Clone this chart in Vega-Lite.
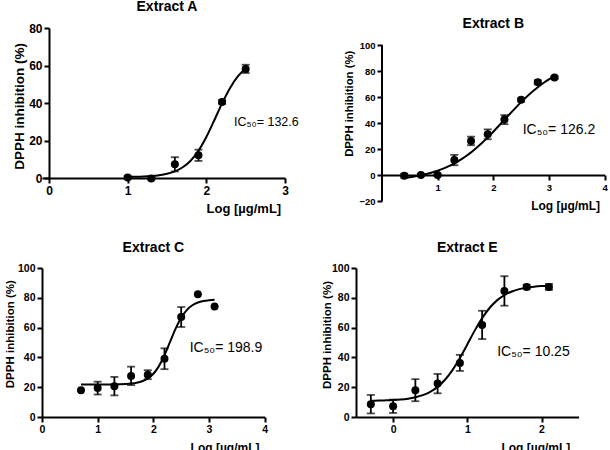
{
  "$schema": "https://vega.github.io/schema/vega-lite/v6.json",
  "padding": {"left": 3, "top": 0, "right": 0, "bottom": 0},
  "background": "white",
  "datasets": {
    "points": [
      {"panel": "A", "logc": 1.0, "inhibition": 0.3, "sem": 0.8},
      {"panel": "A", "logc": 1.3, "inhibition": -0.3, "sem": 0.6},
      {"panel": "A", "logc": 1.6, "inhibition": 7.3, "sem": 3.8},
      {"panel": "A", "logc": 1.9, "inhibition": 12.1, "sem": 3.0},
      {"panel": "A", "logc": 2.2, "inhibition": 40.5, "sem": 1.0},
      {"panel": "A", "logc": 2.5, "inhibition": 58.2, "sem": 2.2},
      {"panel": "B", "logc": 0.4, "inhibition": -0.5, "sem": 1.5},
      {"panel": "B", "logc": 0.7, "inhibition": 0.0, "sem": 0.8},
      {"panel": "B", "logc": 1.0, "inhibition": 0.0, "sem": 0.5},
      {"panel": "B", "logc": 1.3, "inhibition": 11.5, "sem": 4.0},
      {"panel": "B", "logc": 1.6, "inhibition": 26.2, "sem": 3.3},
      {"panel": "B", "logc": 1.9, "inhibition": 31.3, "sem": 3.8},
      {"panel": "B", "logc": 2.2, "inhibition": 42.6, "sem": 3.5},
      {"panel": "B", "logc": 2.5, "inhibition": 57.8, "sem": 1.2},
      {"panel": "B", "logc": 2.8, "inhibition": 71.3, "sem": 1.5},
      {"panel": "B", "logc": 3.1, "inhibition": 75.0, "sem": 1.0},
      {"panel": "C", "logc": 0.7, "inhibition": 17.9, "sem": 0},
      {"panel": "C", "logc": 1.0, "inhibition": 19.4, "sem": 4.3},
      {"panel": "C", "logc": 1.3, "inhibition": 20.7, "sem": 6.2},
      {"panel": "C", "logc": 1.6, "inhibition": 27.6, "sem": 6.2},
      {"panel": "C", "logc": 1.9, "inhibition": 28.4, "sem": 3.0},
      {"panel": "C", "logc": 2.2, "inhibition": 39.1, "sem": 7.0},
      {"panel": "C", "logc": 2.5, "inhibition": 67.1, "sem": 6.7},
      {"panel": "C", "logc": 2.8, "inhibition": 82.3, "sem": 0},
      {"panel": "C", "logc": 3.1, "inhibition": 74.2, "sem": 0},
      {"panel": "E", "logc": -0.3, "inhibition": 8.6, "sem": 6.2},
      {"panel": "E", "logc": 0.0, "inhibition": 7.2, "sem": 4.5},
      {"panel": "E", "logc": 0.3, "inhibition": 18.0, "sem": 7.4},
      {"panel": "E", "logc": 0.6, "inhibition": 22.4, "sem": 6.5},
      {"panel": "E", "logc": 0.9, "inhibition": 36.3, "sem": 5.4},
      {"panel": "E", "logc": 1.2, "inhibition": 61.8, "sem": 9.5},
      {"panel": "E", "logc": 1.5, "inhibition": 84.6, "sem": 9.9},
      {"panel": "E", "logc": 1.8, "inhibition": 87.3, "sem": 1.5},
      {"panel": "E", "logc": 2.1, "inhibition": 87.3, "sem": 2.0}
    ],
    "fit": [
      {"panel": "A", "logc": 1.0, "inhibition": 0.60},
      {"panel": "A", "logc": 1.1, "inhibition": 0.68},
      {"panel": "A", "logc": 1.2, "inhibition": 0.82},
      {"panel": "A", "logc": 1.3, "inhibition": 1.06},
      {"panel": "A", "logc": 1.4, "inhibition": 1.49},
      {"panel": "A", "logc": 1.5, "inhibition": 2.24},
      {"panel": "A", "logc": 1.6, "inhibition": 3.54},
      {"panel": "A", "logc": 1.7, "inhibition": 5.71},
      {"panel": "A", "logc": 1.8, "inhibition": 9.22},
      {"panel": "A", "logc": 1.9, "inhibition": 14.52},
      {"panel": "A", "logc": 2.0, "inhibition": 21.86},
      {"panel": "A", "logc": 2.1, "inhibition": 30.67},
      {"panel": "A", "logc": 2.2, "inhibition": 39.83},
      {"panel": "A", "logc": 2.3, "inhibition": 47.93},
      {"panel": "A", "logc": 2.4, "inhibition": 54.16},
      {"panel": "A", "logc": 2.5, "inhibition": 58.41},
      {"panel": "B", "logc": 0.4, "inhibition": -2.28},
      {"panel": "B", "logc": 0.5, "inhibition": -1.71},
      {"panel": "B", "logc": 0.6, "inhibition": -1.03},
      {"panel": "B", "logc": 0.7, "inhibition": -0.20},
      {"panel": "B", "logc": 0.8, "inhibition": 0.76},
      {"panel": "B", "logc": 0.9, "inhibition": 1.93},
      {"panel": "B", "logc": 1.0, "inhibition": 3.28},
      {"panel": "B", "logc": 1.1, "inhibition": 4.89},
      {"panel": "B", "logc": 1.2, "inhibition": 6.76},
      {"panel": "B", "logc": 1.3, "inhibition": 8.93},
      {"panel": "B", "logc": 1.4, "inhibition": 11.41},
      {"panel": "B", "logc": 1.5, "inhibition": 14.23},
      {"panel": "B", "logc": 1.6, "inhibition": 17.41},
      {"panel": "B", "logc": 1.7, "inhibition": 20.96},
      {"panel": "B", "logc": 1.8, "inhibition": 24.78},
      {"panel": "B", "logc": 1.9, "inhibition": 28.93},
      {"panel": "B", "logc": 2.0, "inhibition": 33.32},
      {"panel": "B", "logc": 2.1, "inhibition": 37.87},
      {"panel": "B", "logc": 2.2, "inhibition": 42.50},
      {"panel": "B", "logc": 2.3, "inhibition": 47.14},
      {"panel": "B", "logc": 2.4, "inhibition": 51.68},
      {"panel": "B", "logc": 2.5, "inhibition": 56.05},
      {"panel": "B", "logc": 2.6, "inhibition": 60.20},
      {"panel": "B", "logc": 2.7, "inhibition": 64.04},
      {"panel": "B", "logc": 2.8, "inhibition": 67.57},
      {"panel": "B", "logc": 2.9, "inhibition": 70.76},
      {"panel": "B", "logc": 3.0, "inhibition": 73.58},
      {"panel": "B", "logc": 3.1, "inhibition": 76.06},
      {"panel": "C", "logc": 0.7, "inhibition": 21.80},
      {"panel": "C", "logc": 0.8, "inhibition": 21.80},
      {"panel": "C", "logc": 0.9, "inhibition": 21.81},
      {"panel": "C", "logc": 1.0, "inhibition": 21.81},
      {"panel": "C", "logc": 1.1, "inhibition": 21.82},
      {"panel": "C", "logc": 1.2, "inhibition": 21.85},
      {"panel": "C", "logc": 1.3, "inhibition": 21.89},
      {"panel": "C", "logc": 1.4, "inhibition": 21.97},
      {"panel": "C", "logc": 1.5, "inhibition": 22.13},
      {"panel": "C", "logc": 1.6, "inhibition": 22.42},
      {"panel": "C", "logc": 1.7, "inhibition": 22.97},
      {"panel": "C", "logc": 1.8, "inhibition": 23.99},
      {"panel": "C", "logc": 1.9, "inhibition": 25.83},
      {"panel": "C", "logc": 2.0, "inhibition": 29.02},
      {"panel": "C", "logc": 2.1, "inhibition": 34.15},
      {"panel": "C", "logc": 2.2, "inhibition": 41.49},
      {"panel": "C", "logc": 2.3, "inhibition": 50.40},
      {"panel": "C", "logc": 2.4, "inhibition": 59.31},
      {"panel": "C", "logc": 2.5, "inhibition": 66.66},
      {"panel": "C", "logc": 2.6, "inhibition": 71.78},
      {"panel": "C", "logc": 2.7, "inhibition": 74.97},
      {"panel": "C", "logc": 2.8, "inhibition": 76.81},
      {"panel": "C", "logc": 2.9, "inhibition": 77.83},
      {"panel": "C", "logc": 3.0, "inhibition": 78.38},
      {"panel": "C", "logc": 3.1, "inhibition": 78.67},
      {"panel": "E", "logc": -0.3, "inhibition": 10.94},
      {"panel": "E", "logc": -0.2, "inhibition": 11.02},
      {"panel": "E", "logc": -0.1, "inhibition": 11.16},
      {"panel": "E", "logc": 0.0, "inhibition": 11.38},
      {"panel": "E", "logc": 0.1, "inhibition": 11.74},
      {"panel": "E", "logc": 0.2, "inhibition": 12.32},
      {"panel": "E", "logc": 0.3, "inhibition": 13.23},
      {"panel": "E", "logc": 0.4, "inhibition": 14.67},
      {"panel": "E", "logc": 0.5, "inhibition": 16.88},
      {"panel": "E", "logc": 0.6, "inhibition": 20.21},
      {"panel": "E", "logc": 0.7, "inhibition": 24.98},
      {"panel": "E", "logc": 0.8, "inhibition": 31.46},
      {"panel": "E", "logc": 0.9, "inhibition": 39.58},
      {"panel": "E", "logc": 1.0, "inhibition": 48.72},
      {"panel": "E", "logc": 1.1, "inhibition": 57.97},
      {"panel": "E", "logc": 1.2, "inhibition": 66.34},
      {"panel": "E", "logc": 1.3, "inhibition": 73.16},
      {"panel": "E", "logc": 1.4, "inhibition": 78.27},
      {"panel": "E", "logc": 1.5, "inhibition": 81.86},
      {"panel": "E", "logc": 1.6, "inhibition": 84.26},
      {"panel": "E", "logc": 1.7, "inhibition": 85.83},
      {"panel": "E", "logc": 1.8, "inhibition": 86.83},
      {"panel": "E", "logc": 1.9, "inhibition": 87.46},
      {"panel": "E", "logc": 2.0, "inhibition": 87.86},
      {"panel": "E", "logc": 2.1, "inhibition": 88.10}
    ]
  },
  "spacing": 25,
  "vconcat": [
    {
      "spacing": 44,
      "hconcat": [
        {
          "width": 243,
          "height": 150,
          "title": {"text": "Extract A", "offset": 8, "dx": 3.5, "anchor": "middle", "frame": "group"},
          "layer": [
            {
              "data": {"name": "fit"},
              "transform": [{"filter": "datum.panel === 'A'"}],
              "mark": {"type": "line", "color": "black", "strokeWidth": 2, "interpolate": "monotone"},
              "encoding": {
                "x": {"field": "logc", "type": "quantitative", "title": "Log [µg/mL]", "scale": {"domain": [-0.089, 3], "nice": false, "zero": false}, "axis": {"values": [0, 1, 2, 3], "format": "d", "labelFontSize": 12, "titleFontSize": 13, "titleAlign": "right", "titleBaseline": "alphabetic", "titleX": 238.7, "titleY": 34.8}},
                "y": {"field": "inhibition", "type": "quantitative", "title": "DPPH inhibition (%)", "scale": {"domain": [0, 80], "nice": false, "zero": false}, "axis": {"values": [0, 20, 40, 60, 80], "format": "d", "offset": -7, "labelFontSize": 12, "titleFontSize": 13.5, "titleAngle": 270, "titleAlign": "center", "titleBaseline": "alphabetic", "titleX": -26, "titleY": 78}}
              }
            },
            {
              "data": {"name": "points"},
              "transform": [{"filter": "datum.panel === 'A' && datum.sem > 0"}],
              "mark": {"type": "errorbar", "color": "black", "thickness": 1.8, "ticks": {"size": 8, "thickness": 1.8, "color": "black"}},
              "encoding": {
                "x": {"field": "logc", "type": "quantitative", "title": "Log [µg/mL]", "scale": {"domain": [-0.089, 3], "nice": false, "zero": false}, "axis": {"values": [0, 1, 2, 3], "format": "d", "labelFontSize": 12, "titleFontSize": 13, "titleAlign": "right", "titleBaseline": "alphabetic", "titleX": 238.7, "titleY": 34.8}},
                "y": {"field": "inhibition", "type": "quantitative", "title": "DPPH inhibition (%)", "scale": {"domain": [0, 80], "nice": false, "zero": false}, "axis": {"values": [0, 20, 40, 60, 80], "format": "d", "offset": -7, "labelFontSize": 12, "titleFontSize": 13.5, "titleAngle": 270, "titleAlign": "center", "titleBaseline": "alphabetic", "titleX": -26, "titleY": 78}},
                "yError": {"field": "sem"}
              }
            },
            {
              "data": {"name": "points"},
              "transform": [{"filter": "datum.panel === 'A'"}],
              "mark": {"type": "point", "filled": true, "size": 64, "color": "black", "opacity": 1},
              "encoding": {
                "x": {"field": "logc", "type": "quantitative", "title": "Log [µg/mL]", "scale": {"domain": [-0.089, 3], "nice": false, "zero": false}, "axis": {"values": [0, 1, 2, 3], "format": "d", "labelFontSize": 12, "titleFontSize": 13, "titleAlign": "right", "titleBaseline": "alphabetic", "titleX": 238.7, "titleY": 34.8}},
                "y": {"field": "inhibition", "type": "quantitative", "title": "DPPH inhibition (%)", "scale": {"domain": [0, 80], "nice": false, "zero": false}, "axis": {"values": [0, 20, 40, 60, 80], "format": "d", "offset": -7, "labelFontSize": 12, "titleFontSize": 13.5, "titleAngle": 270, "titleAlign": "center", "titleBaseline": "alphabetic", "titleX": -26, "titleY": 78}}
              }
            },
            {
              "data": {"values": [{}]},
              "mark": {"type": "text", "align": "left", "baseline": "middle", "fontSize": 12.5, "color": "black"},
              "encoding": {
                "x": {"datum": 2.351, "type": "quantitative", "title": "Log [µg/mL]", "scale": {"domain": [-0.089, 3], "nice": false, "zero": false}, "axis": {"values": [0, 1, 2, 3], "format": "d", "labelFontSize": 12, "titleFontSize": 13, "titleAlign": "right", "titleBaseline": "alphabetic", "titleX": 238.7, "titleY": 34.8}},
                "y": {"datum": 29.9, "type": "quantitative", "title": "DPPH inhibition (%)", "scale": {"domain": [0, 80], "nice": false, "zero": false}, "axis": {"values": [0, 20, 40, 60, 80], "format": "d", "offset": -7, "labelFontSize": 12, "titleFontSize": 13.5, "titleAngle": 270, "titleAlign": "center", "titleBaseline": "alphabetic", "titleX": -26, "titleY": 78}},
                "text": {"value": "IC₅₀= 132.6"}
              }
            }
          ]
        },
        {
          "width": 222.6,
          "height": 173,
          "title": {"text": "Extract B", "offset": -3, "anchor": "middle", "frame": "group"},
          "layer": [
            {
              "data": {"name": "fit"},
              "transform": [{"filter": "datum.panel === 'B'"}],
              "mark": {"type": "line", "color": "black", "strokeWidth": 2, "interpolate": "monotone"},
              "encoding": {
                "x": {"field": "logc", "type": "quantitative", "title": "Log [µg/mL]", "scale": {"domain": [0, 4], "nice": false, "zero": false}, "axis": {"values": [1, 2, 3, 4], "format": "d", "offset": -26, "labelFontSize": 9.5, "titleFontSize": 12, "titleAlign": "right", "titleBaseline": "alphabetic", "titleX": 217.6, "titleY": 34}},
                "y": {"field": "inhibition", "type": "quantitative", "title": "DPPH inhibition (%)", "scale": {"domain": [-20, 113.08], "nice": false, "zero": false}, "axis": {"values": [-20, 0, 20, 40, 60, 80, 100], "format": "d", "domain": false, "labelFontSize": 9.5, "titleFontSize": 11.3, "titleAngle": 270, "titleAlign": "center", "titleBaseline": "alphabetic", "titleX": -29.7, "titleY": 75.3}}
              }
            },
            {
              "data": {"values": [{}]},
              "mark": {"type": "rule", "color": "black", "strokeWidth": 2},
              "encoding": {
                "x": {"datum": 0, "type": "quantitative", "title": "Log [µg/mL]", "scale": {"domain": [0, 4], "nice": false, "zero": false}, "axis": {"values": [1, 2, 3, 4], "format": "d", "offset": -26, "labelFontSize": 9.5, "titleFontSize": 12, "titleAlign": "right", "titleBaseline": "alphabetic", "titleX": 217.6, "titleY": 34}},
                "y": {"datum": -20, "type": "quantitative", "title": "DPPH inhibition (%)", "scale": {"domain": [-20, 113.08], "nice": false, "zero": false}, "axis": {"values": [-20, 0, 20, 40, 60, 80, 100], "format": "d", "domain": false, "labelFontSize": 9.5, "titleFontSize": 11.3, "titleAngle": 270, "titleAlign": "center", "titleBaseline": "alphabetic", "titleX": -29.7, "titleY": 75.3}},
                "y2": {"datum": 100}
              }
            },
            {
              "data": {"name": "points"},
              "transform": [{"filter": "datum.panel === 'B' && datum.sem > 0"}],
              "mark": {"type": "errorbar", "color": "black", "thickness": 1.8, "ticks": {"size": 8, "thickness": 1.8, "color": "black"}},
              "encoding": {
                "x": {"field": "logc", "type": "quantitative", "title": "Log [µg/mL]", "scale": {"domain": [0, 4], "nice": false, "zero": false}, "axis": {"values": [1, 2, 3, 4], "format": "d", "offset": -26, "labelFontSize": 9.5, "titleFontSize": 12, "titleAlign": "right", "titleBaseline": "alphabetic", "titleX": 217.6, "titleY": 34}},
                "y": {"field": "inhibition", "type": "quantitative", "title": "DPPH inhibition (%)", "scale": {"domain": [-20, 113.08], "nice": false, "zero": false}, "axis": {"values": [-20, 0, 20, 40, 60, 80, 100], "format": "d", "domain": false, "labelFontSize": 9.5, "titleFontSize": 11.3, "titleAngle": 270, "titleAlign": "center", "titleBaseline": "alphabetic", "titleX": -29.7, "titleY": 75.3}},
                "yError": {"field": "sem"}
              }
            },
            {
              "data": {"name": "points"},
              "transform": [{"filter": "datum.panel === 'B'"}],
              "mark": {"type": "point", "filled": true, "size": 64, "color": "black", "opacity": 1},
              "encoding": {
                "x": {"field": "logc", "type": "quantitative", "title": "Log [µg/mL]", "scale": {"domain": [0, 4], "nice": false, "zero": false}, "axis": {"values": [1, 2, 3, 4], "format": "d", "offset": -26, "labelFontSize": 9.5, "titleFontSize": 12, "titleAlign": "right", "titleBaseline": "alphabetic", "titleX": 217.6, "titleY": 34}},
                "y": {"field": "inhibition", "type": "quantitative", "title": "DPPH inhibition (%)", "scale": {"domain": [-20, 113.08], "nice": false, "zero": false}, "axis": {"values": [-20, 0, 20, 40, 60, 80, 100], "format": "d", "domain": false, "labelFontSize": 9.5, "titleFontSize": 11.3, "titleAngle": 270, "titleAlign": "center", "titleBaseline": "alphabetic", "titleX": -29.7, "titleY": 75.3}}
              }
            },
            {
              "data": {"values": [{}]},
              "mark": {"type": "text", "align": "left", "baseline": "middle", "fontSize": 14, "color": "black"},
              "encoding": {
                "x": {"datum": 2.527, "type": "quantitative", "title": "Log [µg/mL]", "scale": {"domain": [0, 4], "nice": false, "zero": false}, "axis": {"values": [1, 2, 3, 4], "format": "d", "offset": -26, "labelFontSize": 9.5, "titleFontSize": 12, "titleAlign": "right", "titleBaseline": "alphabetic", "titleX": 217.6, "titleY": 34}},
                "y": {"datum": 34.6, "type": "quantitative", "title": "DPPH inhibition (%)", "scale": {"domain": [-20, 113.08], "nice": false, "zero": false}, "axis": {"values": [-20, 0, 20, 40, 60, 80, 100], "format": "d", "domain": false, "labelFontSize": 9.5, "titleFontSize": 11.3, "titleAngle": 270, "titleAlign": "center", "titleBaseline": "alphabetic", "titleX": -29.7, "titleY": 75.3}},
                "text": {"value": "IC₅₀= 126.2"}
              }
            }
          ]
        }
      ]
    },
    {
      "spacing": 53,
      "hconcat": [
        {
          "width": 222.7,
          "height": 149,
          "title": {"text": "Extract C", "offset": 8, "anchor": "middle", "frame": "group"},
          "layer": [
            {
              "data": {"name": "fit"},
              "transform": [{"filter": "datum.panel === 'C'"}],
              "mark": {"type": "line", "color": "black", "strokeWidth": 2, "interpolate": "monotone"},
              "encoding": {
                "x": {"field": "logc", "type": "quantitative", "title": "Log [µg/mL]", "scale": {"domain": [0, 4], "nice": false, "zero": false}, "axis": {"values": [0, 1, 2, 3, 4], "format": "d", "labelFontSize": 10.5, "titleFontSize": 12, "titleAlign": "right", "titleBaseline": "alphabetic", "titleX": 217, "titleY": 34}},
                "y": {"field": "inhibition", "type": "quantitative", "title": "DPPH inhibition (%)", "scale": {"domain": [0, 100], "nice": false, "zero": false}, "axis": {"values": [0, 20, 40, 60, 80, 100], "format": "d", "labelFontSize": 10.5, "titleFontSize": 11.5, "titleAngle": 270, "titleAlign": "center", "titleBaseline": "alphabetic", "titleX": -29, "titleY": 65.7}}
              }
            },
            {
              "data": {"name": "points"},
              "transform": [{"filter": "datum.panel === 'C' && datum.sem > 0"}],
              "mark": {"type": "errorbar", "color": "black", "thickness": 1.8, "ticks": {"size": 8, "thickness": 1.8, "color": "black"}},
              "encoding": {
                "x": {"field": "logc", "type": "quantitative", "title": "Log [µg/mL]", "scale": {"domain": [0, 4], "nice": false, "zero": false}, "axis": {"values": [0, 1, 2, 3, 4], "format": "d", "labelFontSize": 10.5, "titleFontSize": 12, "titleAlign": "right", "titleBaseline": "alphabetic", "titleX": 217, "titleY": 34}},
                "y": {"field": "inhibition", "type": "quantitative", "title": "DPPH inhibition (%)", "scale": {"domain": [0, 100], "nice": false, "zero": false}, "axis": {"values": [0, 20, 40, 60, 80, 100], "format": "d", "labelFontSize": 10.5, "titleFontSize": 11.5, "titleAngle": 270, "titleAlign": "center", "titleBaseline": "alphabetic", "titleX": -29, "titleY": 65.7}},
                "yError": {"field": "sem"}
              }
            },
            {
              "data": {"name": "points"},
              "transform": [{"filter": "datum.panel === 'C'"}],
              "mark": {"type": "point", "filled": true, "size": 64, "color": "black", "opacity": 1},
              "encoding": {
                "x": {"field": "logc", "type": "quantitative", "title": "Log [µg/mL]", "scale": {"domain": [0, 4], "nice": false, "zero": false}, "axis": {"values": [0, 1, 2, 3, 4], "format": "d", "labelFontSize": 10.5, "titleFontSize": 12, "titleAlign": "right", "titleBaseline": "alphabetic", "titleX": 217, "titleY": 34}},
                "y": {"field": "inhibition", "type": "quantitative", "title": "DPPH inhibition (%)", "scale": {"domain": [0, 100], "nice": false, "zero": false}, "axis": {"values": [0, 20, 40, 60, 80, 100], "format": "d", "labelFontSize": 10.5, "titleFontSize": 11.5, "titleAngle": 270, "titleAlign": "center", "titleBaseline": "alphabetic", "titleX": -29, "titleY": 65.7}}
              }
            },
            {
              "data": {"values": [{}]},
              "mark": {"type": "text", "align": "left", "baseline": "middle", "fontSize": 14, "color": "black"},
              "encoding": {
                "x": {"datum": 2.653, "type": "quantitative", "title": "Log [µg/mL]", "scale": {"domain": [0, 4], "nice": false, "zero": false}, "axis": {"values": [0, 1, 2, 3, 4], "format": "d", "labelFontSize": 10.5, "titleFontSize": 12, "titleAlign": "right", "titleBaseline": "alphabetic", "titleX": 217, "titleY": 34}},
                "y": {"datum": 46.3, "type": "quantitative", "title": "DPPH inhibition (%)", "scale": {"domain": [0, 100], "nice": false, "zero": false}, "axis": {"values": [0, 20, 40, 60, 80, 100], "format": "d", "labelFontSize": 10.5, "titleFontSize": 11.5, "titleAngle": 270, "titleAlign": "center", "titleBaseline": "alphabetic", "titleX": -29, "titleY": 65.7}},
                "text": {"value": "IC₅₀= 198.9"}
              }
            }
          ]
        },
        {
          "width": 222.6,
          "height": 149,
          "title": {"text": "Extract E", "offset": 8, "anchor": "middle", "frame": "group"},
          "layer": [
            {
              "data": {"name": "fit"},
              "transform": [{"filter": "datum.panel === 'E'"}],
              "mark": {"type": "line", "color": "black", "strokeWidth": 2, "interpolate": "monotone"},
              "encoding": {
                "x": {"field": "logc", "type": "quantitative", "title": "Log [µg/mL]", "scale": {"domain": [-0.5, 2.5], "nice": false, "zero": false}, "axis": {"values": [0, 1, 2], "format": "d", "labelFontSize": 10.5, "titleFontSize": 12, "titleAlign": "right", "titleBaseline": "alphabetic", "titleX": 213.8, "titleY": 34}},
                "y": {"field": "inhibition", "type": "quantitative", "title": "DPPH inhibition (%)", "scale": {"domain": [0, 100], "nice": false, "zero": false}, "axis": {"values": [0, 20, 40, 60, 80, 100], "format": "d", "labelFontSize": 10.5, "titleFontSize": 11.5, "titleAngle": 270, "titleAlign": "center", "titleBaseline": "alphabetic", "titleX": -25.7, "titleY": 66.5}}
              }
            },
            {
              "data": {"name": "points"},
              "transform": [{"filter": "datum.panel === 'E' && datum.sem > 0"}],
              "mark": {"type": "errorbar", "color": "black", "thickness": 1.8, "ticks": {"size": 8, "thickness": 1.8, "color": "black"}},
              "encoding": {
                "x": {"field": "logc", "type": "quantitative", "title": "Log [µg/mL]", "scale": {"domain": [-0.5, 2.5], "nice": false, "zero": false}, "axis": {"values": [0, 1, 2], "format": "d", "labelFontSize": 10.5, "titleFontSize": 12, "titleAlign": "right", "titleBaseline": "alphabetic", "titleX": 213.8, "titleY": 34}},
                "y": {"field": "inhibition", "type": "quantitative", "title": "DPPH inhibition (%)", "scale": {"domain": [0, 100], "nice": false, "zero": false}, "axis": {"values": [0, 20, 40, 60, 80, 100], "format": "d", "labelFontSize": 10.5, "titleFontSize": 11.5, "titleAngle": 270, "titleAlign": "center", "titleBaseline": "alphabetic", "titleX": -25.7, "titleY": 66.5}},
                "yError": {"field": "sem"}
              }
            },
            {
              "data": {"name": "points"},
              "transform": [{"filter": "datum.panel === 'E'"}],
              "mark": {"type": "point", "filled": true, "size": 64, "color": "black", "opacity": 1},
              "encoding": {
                "x": {"field": "logc", "type": "quantitative", "title": "Log [µg/mL]", "scale": {"domain": [-0.5, 2.5], "nice": false, "zero": false}, "axis": {"values": [0, 1, 2], "format": "d", "labelFontSize": 10.5, "titleFontSize": 12, "titleAlign": "right", "titleBaseline": "alphabetic", "titleX": 213.8, "titleY": 34}},
                "y": {"field": "inhibition", "type": "quantitative", "title": "DPPH inhibition (%)", "scale": {"domain": [0, 100], "nice": false, "zero": false}, "axis": {"values": [0, 20, 40, 60, 80, 100], "format": "d", "labelFontSize": 10.5, "titleFontSize": 11.5, "titleAngle": 270, "titleAlign": "center", "titleBaseline": "alphabetic", "titleX": -25.7, "titleY": 66.5}}
              }
            },
            {
              "data": {"values": [{}]},
              "mark": {"type": "text", "align": "left", "baseline": "middle", "fontSize": 14, "color": "black"},
              "encoding": {
                "x": {"datum": 1.402, "type": "quantitative", "title": "Log [µg/mL]", "scale": {"domain": [-0.5, 2.5], "nice": false, "zero": false}, "axis": {"values": [0, 1, 2], "format": "d", "labelFontSize": 10.5, "titleFontSize": 12, "titleAlign": "right", "titleBaseline": "alphabetic", "titleX": 213.8, "titleY": 34}},
                "y": {"datum": 43.4, "type": "quantitative", "title": "DPPH inhibition (%)", "scale": {"domain": [0, 100], "nice": false, "zero": false}, "axis": {"values": [0, 20, 40, 60, 80, 100], "format": "d", "labelFontSize": 10.5, "titleFontSize": 11.5, "titleAngle": 270, "titleAlign": "center", "titleBaseline": "alphabetic", "titleX": -25.7, "titleY": 66.5}},
                "text": {"value": "IC₅₀= 10.25"}
              }
            }
          ]
        }
      ]
    }
  ],
  "config": {
    "font": "Liberation Sans",
    "view": {"stroke": null},
    "axis": {
      "grid": false,
      "domainColor": "black",
      "domainWidth": 2,
      "tickColor": "black",
      "tickWidth": 2,
      "tickSize": 5,
      "labelColor": "black",
      "labelFontWeight": "bold",
      "labelPadding": 2,
      "labelFlush": false,
      "labelOverlap": false,
      "titleColor": "black",
      "titleFontWeight": "bold"
    },
    "title": {"fontSize": 14, "fontWeight": "bold", "color": "black", "font": "Liberation Sans"},
    "text": {"font": "Liberation Sans"}
  }
}
